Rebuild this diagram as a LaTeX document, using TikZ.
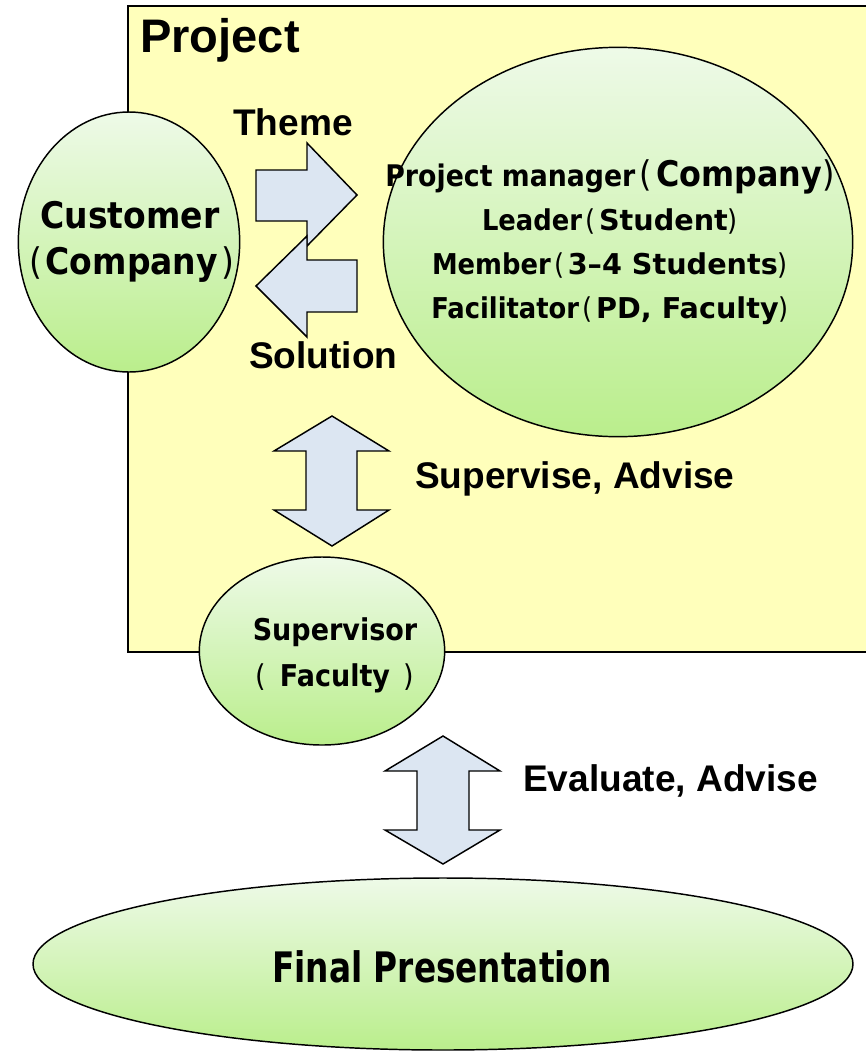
\documentclass[tikz,border=0pt]{standalone}
\usepackage{fontspec}
\setmainfont{Liberation Sans}
\newfontfamily\verd[FakeStretch=0.9]{DejaVu Sans}
\newfontfamily\verdfull{DejaVu Sans}
\newfontfamily\verdcond[FakeStretch=0.78]{DejaVu Sans}
\usetikzlibrary{shapes.geometric}

\definecolor{projyellow}{RGB}{255,255,187}
\definecolor{arrowblue}{RGB}{220,230,242}
\definecolor{greentop}{RGB}{238,250,232}
\definecolor{greenbot}{RGB}{186,238,140}

\newcommand{\opar}[1][0.12em]{\hspace{#1}{\mdseries(}\hspace{#1}}
\newcommand{\cpar}[1][0.12em]{\hspace{#1}{\mdseries)}\hspace{#1}}
\newcommand{\fsz}[2]{\fontsize{#1}{#2}\selectfont}

\tikzset{
  bubble/.style={ellipse, draw=black, line width=1.1pt,
    top color=greentop, bottom color=greenbot, inner sep=0pt},
  blockarrow/.style={draw=black, line width=1.1pt, fill=arrowblue, line join=miter},
  tag/.style={font=\bfseries\fsz{27.8pt}{34pt}, inner sep=0pt},
  bubbletext/.style={align=center, inner sep=0pt}
}

\begin{document}
\begin{tikzpicture}[x=0.75pt,y=-0.75pt]
  \useasboundingbox (0,0) rectangle (865,1054);

  % project frame
  \draw[fill=projyellow, line width=1.4pt] (128,6) rectangle (880,652);
  \node[font=\bfseries\fsz{35.3pt}{40pt}, inner sep=0pt, anchor=base west] (proj) at (140,52) {Project};

  % theme / solution
  \draw[blockarrow] (256,170) -- (307,170) -- (307,143) -- (357,195)
    -- (307,246) -- (307,221) -- (256,221) -- cycle;
  \draw[blockarrow] (357,260) -- (307,260) -- (307,236) -- (256,286)
    -- (307,337) -- (307,312) -- (357,312) -- cycle;
  \node[tag, anchor=base west] (theme) at (233,135) {Theme};
  \node[tag, anchor=base west] (solution) at (249,368) {Solution};

  % customer
  \node[bubble, minimum width=166pt, minimum height=195pt] (customer) at (129,242) {};
  \node[bubbletext, font=\verd\bfseries\fsz{27.5pt}{34pt}] (customertext) at (130,242)
    {Customer\\\opar[0.1em]Company\cpar[0.1em]};

  % team
  \node[bubble, minimum width=352pt, minimum height=292pt] (team) at (618,242) {};
  \node[bubbletext, font=\verd\bfseries\fsz{21.5pt}{33pt}] (teamtext) at (610,242)
    {{\fsz{22.3pt}{33pt}Project manager}{\fsz{26.5pt}{33pt}\opar Company\cpar[0pt]}\\
     Leader\opar{\verdfull Student}\cpar[0pt]\\
     Member\opar{\verdfull 3–4 Students}\cpar[0pt]\\
     Facilitator\opar{\verdfull PD,\hspace{0.35em}Faculty}\cpar[0pt]};

  % supervise
  \draw[blockarrow] (332,416) -- (389,451) -- (357,451) -- (357,510) -- (389,510)
    -- (332,546) -- (274,510) -- (306,510) -- (306,451) -- (274,451) -- cycle;
  \node[tag, anchor=base west] (supervise) at (415,488) {Supervise, Advise};

  % supervisor
  \node[bubble, minimum width=184pt, minimum height=141pt] (supervisor) at (322,651) {};
  \node[bubbletext, font=\verd\bfseries\fsz{22.5pt}{34.5pt}] (supervisortext) at (335,655)
    {Supervisor\\\opar[0pt]\hspace{0.45em}Faculty\hspace{0.45em}\cpar[0pt]};

  % evaluate
  \draw[blockarrow] (443,736) -- (500,771) -- (469,771) -- (469,830) -- (500,830)
    -- (443,864) -- (385,830) -- (417,830) -- (417,771) -- (385,771) -- cycle;
  \node[tag, anchor=base west] (evaluate) at (523,791) {Evaluate, Advise};

  % final presentation
  \node[bubble, minimum width=615pt, minimum height=129pt] (final) at (443,964) {};
  \node[bubbletext, font=\verdcond\bfseries\fsz{31.5pt}{36pt}] (finaltext) at (442,967)
    {Final Presentation};
\end{tikzpicture}
\end{document}
